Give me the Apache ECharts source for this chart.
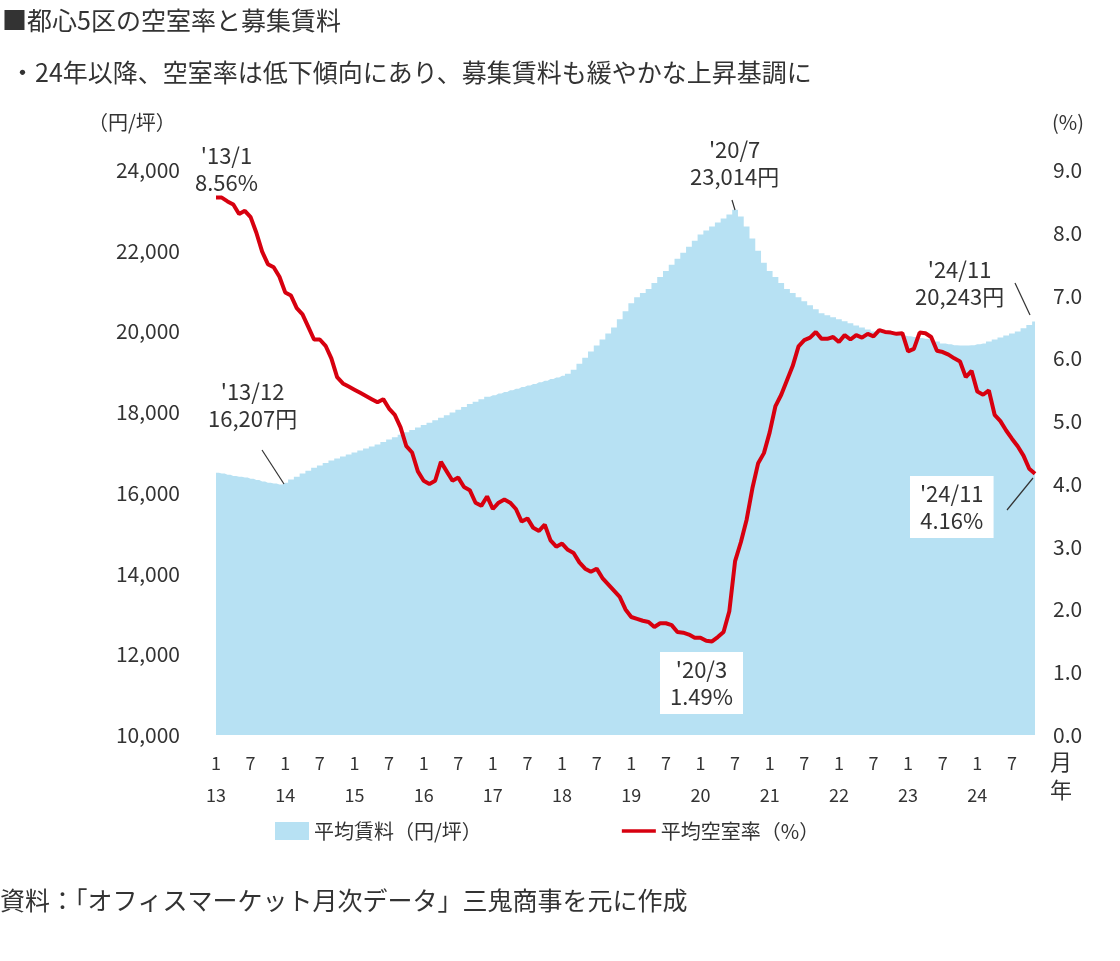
<!DOCTYPE html>
<html><head><meta charset="utf-8">
<script src="https://cdn.jsdelivr.net/npm/echarts@6/dist/echarts.min.js"></script>
<style>body{margin:0;background:#fff}#container{width:1120px;height:961px}</style>
</head><body><div id="container"></div>
<script>
var rent = [
  16500,16480,16450,16420,16400,16380,16350,16320,16280,16250,16230,16207,
  16250,16330,16400,16480,16550,16620,16680,16740,16800,16850,16900,16950,
  17000,17050,17100,17150,17200,17260,17320,17380,17440,17500,17560,17620,
  17680,17740,17800,17860,17920,17990,18060,18130,18200,18260,18320,18380,
  18420,18460,18500,18540,18580,18620,18660,18700,18740,18780,18820,18860,
  18900,18950,19050,19200,19350,19500,19650,19800,19950,20100,20300,20500,
  20700,20850,20950,21050,21200,21350,21500,21650,21800,21950,22100,22250,
  22400,22500,22600,22700,22800,22900,23014,22850,22600,22300,22000,21700,
  21500,21350,21200,21050,20950,20850,20750,20650,20550,20450,20400,20350,
  20300,20250,20200,20150,20100,20050,20000,19980,19960,19940,19920,19900,
  19880,19860,19840,19820,19800,19750,19700,19680,19660,19650,19650,19660,
  19680,19700,19750,19800,19850,19900,19950,20000,20080,20160,20243
];
var vacancy = [
  8.56,8.56,8.5,8.45,8.3,8.35,8.25,8.0,7.7,7.5,7.45,7.3,
  7.05,7.0,6.8,6.7,6.5,6.3,6.3,6.2,6.0,5.7,5.6,5.55,
  5.5,5.45,5.4,5.35,5.3,5.35,5.2,5.1,4.9,4.6,4.5,4.2,
  4.05,4.0,4.05,4.35,4.2,4.05,4.1,3.95,3.9,3.7,3.65,3.8,
  3.6,3.7,3.75,3.7,3.6,3.4,3.45,3.3,3.25,3.35,3.1,3.0,
  3.05,2.95,2.9,2.75,2.65,2.6,2.65,2.5,2.4,2.3,2.2,2.0,
  1.88,1.85,1.82,1.8,1.72,1.78,1.78,1.75,1.64,1.63,1.6,1.55,
  1.55,1.5,1.49,1.56,1.64,1.97,2.77,3.07,3.43,3.93,4.33,4.49,
  4.82,5.24,5.42,5.65,5.88,6.19,6.29,6.33,6.42,6.31,6.31,6.34,
  6.26,6.37,6.30,6.37,6.33,6.39,6.35,6.45,6.42,6.41,6.39,6.40,
  6.11,6.15,6.41,6.40,6.34,6.12,6.10,6.06,6.0,5.95,5.7,5.8,
  5.47,5.42,5.49,5.1,5.0,4.85,4.72,4.6,4.45,4.24,4.16
];
var months = [];
for (var y = 13; y <= 24; y++) for (var m = 1; m <= 12; m++) if (months.length < rent.length) months.push(y + '/' + m);

var font = '"Noto Sans CJK JP", sans-serif';
var txt = {fontFamily: font, fill: '#333', fontSize: 22};
var myChart = echarts.init(document.getElementById('container'));
function label(x, y, s, bg) {
  return {type: 'text', left: x, top: y, z: 20, style: Object.assign({}, txt, {text: s, textAlign: 'center', lineHeight: 27,
    backgroundColor: bg ? '#fff' : null, padding: bg ? [4, 10] : 0})};
}
function seg(x1, y1, x2, y2) {
  return {type: 'line', z: 20, shape: {x1: x1, y1: y1, x2: x2, y2: y2}, style: {stroke: '#333', lineWidth: 1.2}};
}
option = {
  animation: false,
  grid: {left: 216, right: 85, top: 170, bottom: 226},
  legend: {
    bottom: 115, left: 270, itemGap: 140, itemWidth: 34, itemHeight: 18,
    textStyle: {fontFamily: font, fontSize: 20, color: '#333'},
    data: [{name: '平均賃料（円/坪）', icon: 'rect'}, {name: '平均空室率（%）', icon: 'path://M0,8 L40,8 L40,12 L0,12 Z'}]
  },
  xAxis: {
    type: 'category', data: months, boundaryGap: false,
    axisLine: {show: false}, axisTick: {show: false},
    axisLabel: {
      interval: function (i) { return i % 6 === 0; },
      formatter: function (v) { var p = v.split('/'); return p[1] === '1' ? '1\n' + p[0] : p[1]; },
      fontFamily: font, fontSize: 18, color: '#333', lineHeight: 32, margin: 12, verticalAlign: 'top'
    }
  },
  yAxis: [
    {type: 'value', min: 10000, max: 24000, interval: 2000, splitLine: {show: false},
     axisLabel: {formatter: function (v) { return v.toLocaleString('en-US'); }, fontFamily: font, fontSize: 21, color: '#333', margin: 36}},
    {type: 'value', min: 0, max: 9, interval: 1, splitLine: {show: false},
     axisLabel: {formatter: function (v) { return v.toFixed(1); }, fontFamily: font, fontSize: 21, color: '#333', margin: 18}}
  ],
  series: [
    {name: '平均賃料（円/坪）', type: 'line', data: rent, step: 'middle', symbol: 'none',
     lineStyle: {width: 0}, areaStyle: {color: '#b7e1f3', opacity: 1}, itemStyle: {color: '#b7e1f3'}},
    {name: '平均空室率（%）', type: 'line', yAxisIndex: 1, data: vacancy, symbol: 'none',
     lineStyle: {color: '#d7000f', width: 4}, itemStyle: {color: '#d7000f'}, z: 5}
  ],
  graphic: [
    {type: 'text', left: 2, top: 8, style: Object.assign({}, txt, {text: '■都心5区の空室率と募集賃料', fontSize: 25})},
    {type: 'text', left: 10, top: 60, style: Object.assign({}, txt, {text: '・24年以降、空室率は低下傾向にあり、募集賃料も緩やかな上昇基調に', fontSize: 25})},
    {type: 'text', left: 88, top: 112, style: Object.assign({}, txt, {text: '（円/坪）', fontSize: 20})},
    {type: 'text', left: 1052, top: 112, style: Object.assign({}, txt, {text: '(%)', fontSize: 20})},
    {type: 'text', left: 1050, top: 748, style: Object.assign({}, txt, {text: '月\n年', fontSize: 22, lineHeight: 28})},
    {type: 'text', left: 0, top: 888, style: Object.assign({}, txt, {text: '資料：「オフィスマーケット月次データ」三鬼商事を元に作成', fontSize: 25})},
    label(195, 142, "'13/1\n8.56%"),
    label(208, 378, "'13/12\n16,207円"),
    seg(262, 450, 284, 484),
    label(690, 136, "'20/7\n23,014円"),
    seg(732, 200, 735, 210),
    label(915, 256, "'24/11\n20,243円"),
    seg(1015, 283, 1030, 315),
    label(660, 652, "'20/3\n1.49%", true),
    label(910, 476, "'24/11\n4.16%", true),
    seg(1007, 510, 1033, 478)
  ]
};
myChart.setOption(option, true);
</script></body></html>
